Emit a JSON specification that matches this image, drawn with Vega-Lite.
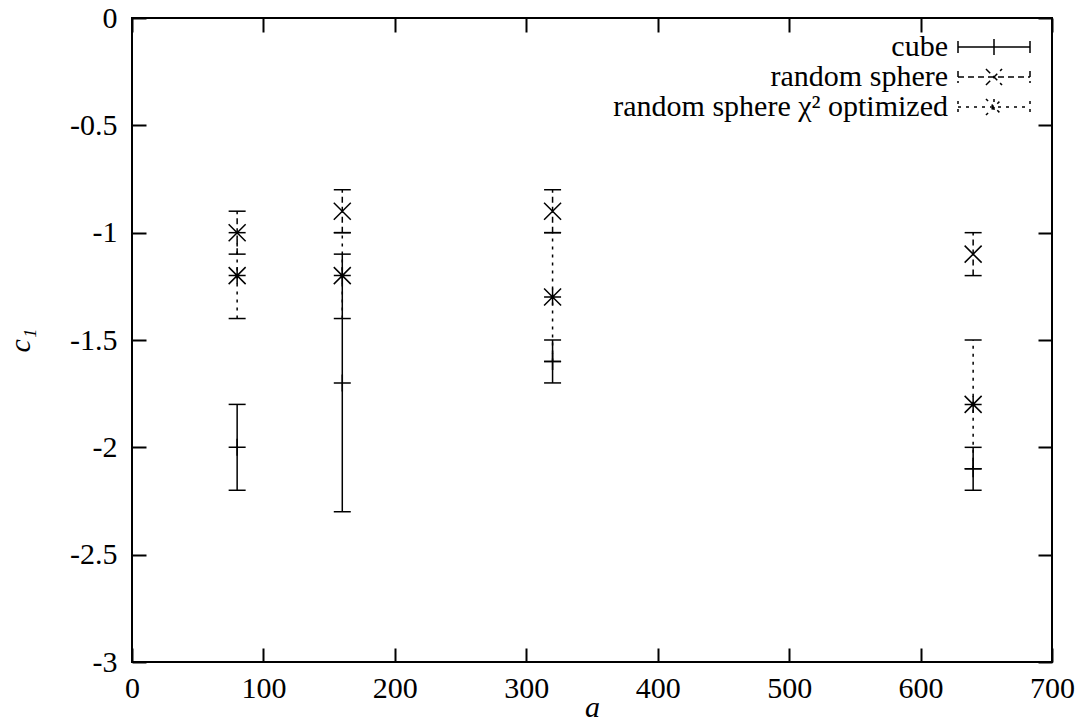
{
  "$schema": "https://vega.github.io/schema/vega-lite/v6.json",
  "width": 920,
  "height": 644,
  "autosize": "none",
  "padding": {"left": 132, "top": 18, "right": 32, "bottom": 65},
  "background": "white",
  "config": {
    "view": {"stroke": "black", "strokeWidth": 2},
    "font": "Liberation Serif",
    "axis": {"grid": false, "domain": false, "labelFlush": false, "tickColor": "black", "tickWidth": 2, "tickSize": -14, "labelColor": "black", "labelFont": "Liberation Serif", "labelFontSize": 30, "titleFont": "Liberation Serif", "titleColor": "black", "titleFontWeight": "normal", "titleFontStyle": "italic", "titleFontSize": 30}
  },
  "data": {
    "values": [
      {"a": 80, "series": "cube", "c1": -2.0, "lo": -2.2, "hi": -1.8},
      {"a": 160, "series": "cube", "c1": -1.7, "lo": -2.3, "hi": -1.1},
      {"a": 320, "series": "cube", "c1": -1.6, "lo": -1.7, "hi": -1.5},
      {"a": 640, "series": "cube", "c1": -2.1, "lo": -2.2, "hi": -2.0},
      {"a": 80, "series": "random sphere", "c1": -1.0, "lo": -1.1, "hi": -0.9},
      {"a": 160, "series": "random sphere", "c1": -0.9, "lo": -1.0, "hi": -0.8},
      {"a": 320, "series": "random sphere", "c1": -0.9, "lo": -1.0, "hi": -0.8},
      {"a": 640, "series": "random sphere", "c1": -1.1, "lo": -1.2, "hi": -1.0},
      {"a": 80, "series": "random sphere χ² optimized", "c1": -1.2, "lo": -1.4, "hi": -1.0},
      {"a": 160, "series": "random sphere χ² optimized", "c1": -1.2, "lo": -1.4, "hi": -1.0},
      {"a": 320, "series": "random sphere χ² optimized", "c1": -1.3, "lo": -1.6, "hi": -1.0},
      {"a": 640, "series": "random sphere χ² optimized", "c1": -1.8, "lo": -2.1, "hi": -1.5}
    ]
  },
  "layer": [
    {
      "mark": {"type": "rule", "color": "black", "strokeWidth": 1.5},
      "encoding": {
        "x": {"field": "a", "type": "quantitative", "scale": {"domain": [0, 700], "nice": false, "zero": false},
              "axis": {"orient": "bottom", "values": [0, 100, 200, 300, 400, 500, 600, 700], "labelPadding": 25, "title": "a", "titlePadding": -11}},
        "y": {"field": "lo", "type": "quantitative", "scale": {"domain": [-3, 0], "nice": false, "zero": false},
              "axis": {"orient": "left", "values": [-3, -2.5, -2, -1.5, -1, -0.5, 0], "labelPadding": 29, "labelExpr": "datum.value === 0 ? '0' : '-' + format(-datum.value, '')", "title": "c₁", "titlePadding": 34}},
        "y2": {"field": "hi"},
        "strokeDash": {"field": "series", "type": "nominal",
          "scale": {"domain": ["cube", "random sphere", "random sphere χ² optimized"], "range": [[1, 0], [6, 4], [3, 5]]},
          "legend": {"title": null, "orient": "none", "legendX": 823, "legendY": 14, "labelAlign": "right", "labelOffset": -61, "symbolOffset": 24, "symbolSize": 576, "symbolStrokeWidth": 1.5, "symbolStrokeColor": "black", "symbolFillColor": "transparent", "labelFont": "Liberation Serif", "labelFontSize": 30, "labelColor": "black", "rowPadding": 0, "labelLimit": 600,
            "encode": {"symbols": {"update": {"shape": {"signal": "datum.value === 'cube' ? 'M-3,-0.5V0.5M-3,0H3M3,-0.5V0.5M0,-0.67V0.67' : datum.value === 'random sphere' ? 'M-3,-0.5V0.5M-3,0H3M3,-0.5V0.5M-0.67,-0.67L0.67,0.67M-0.67,0.67L0.67,-0.67' : 'M-3,-0.5V0.5M-3,0H3M3,-0.5V0.5M0,-0.67V0.67M-0.67,-0.67L0.67,0.67M-0.67,0.67L0.67,-0.67'"}}}}}
        }
      }
    },
    {
      "mark": {"type": "point", "shape": "M-1,0H1", "size": 289, "filled": false, "stroke": "black", "strokeWidth": 1.5, "opacity": 1},
      "encoding": {
        "x": {"field": "a", "type": "quantitative", "scale": {"domain": [0, 700], "nice": false, "zero": false}, "axis": null},
        "y": {"field": "lo", "type": "quantitative", "scale": {"domain": [-3, 0], "nice": false, "zero": false}, "axis": null}
      }
    },
    {
      "mark": {"type": "point", "shape": "M-1,0H1", "size": 289, "filled": false, "stroke": "black", "strokeWidth": 1.5, "opacity": 1},
      "encoding": {
        "x": {"field": "a", "type": "quantitative", "scale": {"domain": [0, 700], "nice": false, "zero": false}, "axis": null},
        "y": {"field": "hi", "type": "quantitative", "scale": {"domain": [-3, 0], "nice": false, "zero": false}, "axis": null}
      }
    },
    {
      "transform": [{"filter": "datum.series === 'cube'"}],
      "mark": {"type": "point", "shape": "M-1,0H1M0,-1V1", "filled": false, "stroke": "black", "strokeWidth": 1.5, "opacity": 1, "size": 289},
      "encoding": {
        "x": {"field": "a", "type": "quantitative", "scale": {"domain": [0, 700], "nice": false, "zero": false}, "axis": null},
        "y": {"field": "c1", "type": "quantitative", "scale": {"domain": [-3, 0], "nice": false, "zero": false}, "axis": null}
      }
    },
    {
      "transform": [{"filter": "datum.series === 'random sphere'"}],
      "mark": {"type": "point", "shape": "M-1,-1L1,1M-1,1L1,-1", "filled": false, "stroke": "black", "strokeWidth": 1.5, "opacity": 1, "size": 289},
      "encoding": {
        "x": {"field": "a", "type": "quantitative", "scale": {"domain": [0, 700], "nice": false, "zero": false}, "axis": null},
        "y": {"field": "c1", "type": "quantitative", "scale": {"domain": [-3, 0], "nice": false, "zero": false}, "axis": null}
      }
    },
    {
      "transform": [{"filter": "datum.series === 'random sphere χ² optimized'"}],
      "mark": {"type": "point", "shape": "M-1,0H1M0,-1V1M-1,-1L1,1M-1,1L1,-1", "filled": false, "stroke": "black", "strokeWidth": 1.5, "opacity": 1, "size": 289},
      "encoding": {
        "x": {"field": "a", "type": "quantitative", "scale": {"domain": [0, 700], "nice": false, "zero": false},
              "axis": {"orient": "top", "values": [0, 100, 200, 300, 400, 500, 600, 700], "labels": false, "title": null}},
        "y": {"field": "c1", "type": "quantitative", "scale": {"domain": [-3, 0], "nice": false, "zero": false},
              "axis": {"orient": "right", "values": [-3, -2.5, -2, -1.5, -1, -0.5, 0], "labels": false, "title": null}}
      }
    }
  ],
  "resolve": {"axis": {"x": "independent", "y": "independent"}}
}
